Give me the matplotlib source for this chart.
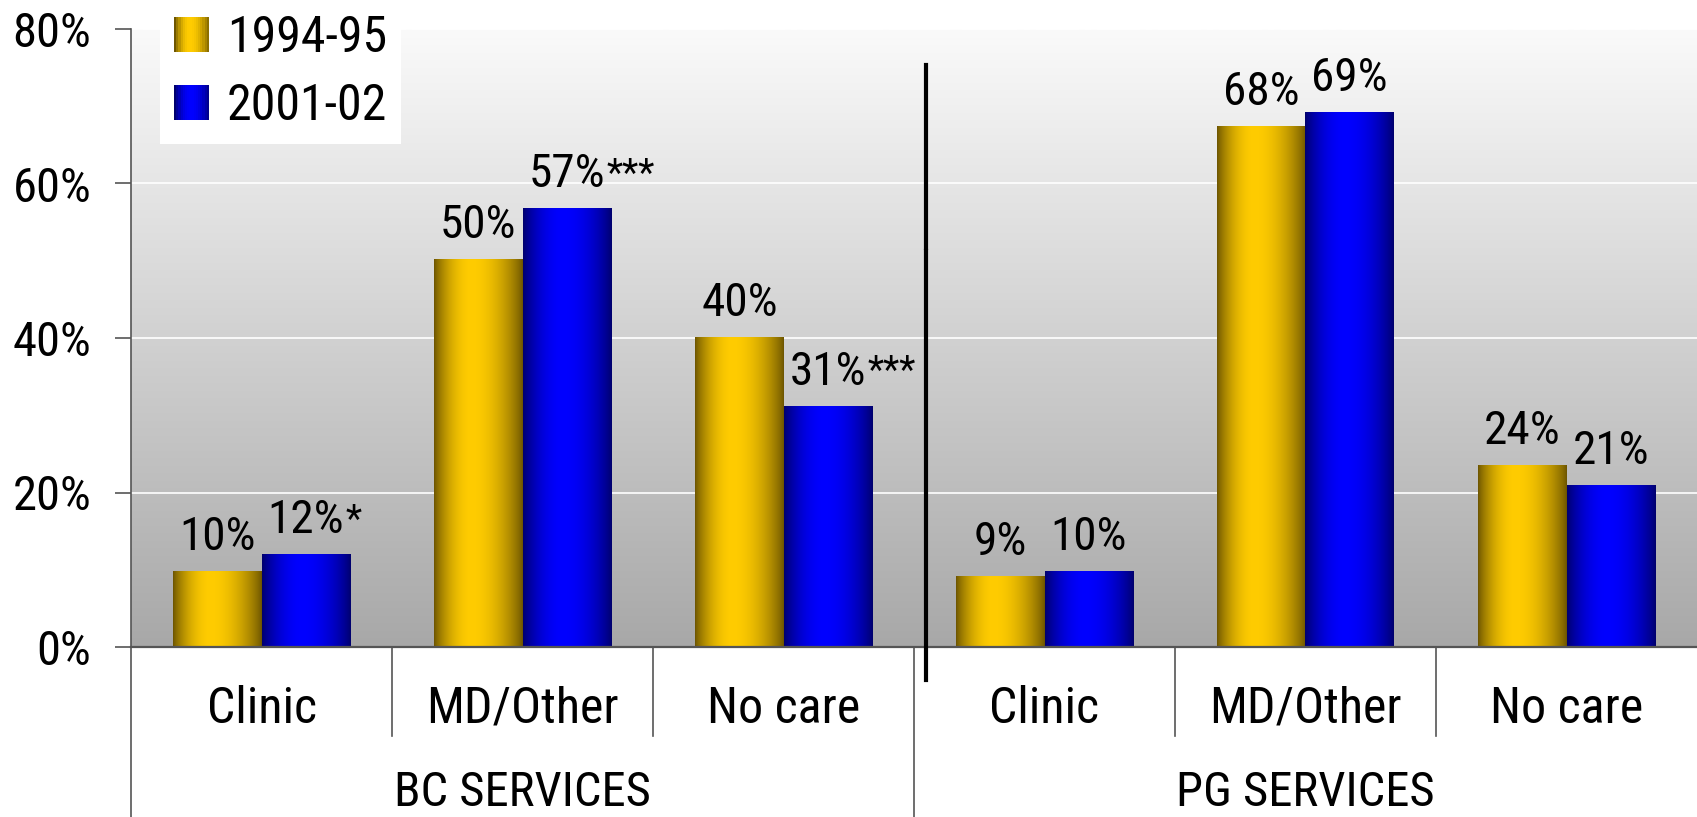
import numpy as np
import matplotlib
matplotlib.use('Agg')
import matplotlib.pyplot as plt
from matplotlib import font_manager
from matplotlib.patches import Rectangle
from matplotlib.legend_handler import HandlerBase

# ---------------- data ----------------
categories = ['Clinic', 'MD/Other', 'No care', 'Clinic', 'MD/Other', 'No care']
groups = ['BC SERVICES', 'PG SERVICES']
group_centers = [1, 4]
series_names = ['1994-95', '2001-02']
values_1994 = [9.9, 50.2, 40.1, 9.2, 67.5, 23.6]
values_2001 = [12.0, 56.8, 31.2, 9.8, 69.3, 21.0]
labels_1994 = ['10%', '50%', '40%', '9%', '68%', '24%']
labels_2001 = ['12%', '57%', '31%', '10%', '69%', '21%']
sig_2001 = ['*', '***', '***', '', '', '']
yticks = [0, 20, 40, 60, 80]
ytick_labels = ['0%', '20%', '40%', '60%', '80%']

names = {f.name for f in font_manager.fontManager.ttflist}
cands = ['Liberation Sans Narrow', 'Roboto Condensed', 'DejaVu Sans Condensed',
         'Liberation Sans']
FONT = [c for c in cands if c in names][:1] + ['DejaVu Sans']
plt.rcParams['font.family'] = FONT


def gradient(dark, bright, peak=0.42, n=96):
    t = np.linspace(0, 1, n)
    w = np.where(t < peak, t / peak, (1 - t) / (1 - peak))
    w = np.sin(np.clip(w, 0, 1) * np.pi / 2) ** 0.8
    dark = np.array(dark) / 255.0
    bright = np.array(bright) / 255.0
    return dark[None, :] * (1 - w[:, None]) + bright[None, :] * w[:, None]


grad_yellow = gradient((110, 86, 0), (255, 204, 0))
grad_blue = gradient((0, 0, 110), (0, 0, 255), peak=0.45)

fig = plt.figure(figsize=(16.97, 8.17), dpi=100)
ax = fig.add_axes([131 / 1697, 1 - 647 / 817, 1 - 131 / 1697, (647 - 29) / 817])

# background gradient
bg = np.linspace(250, 168, 256)[:, None, None] / 255.0 * np.ones((1, 1, 3))
ax.imshow(bg, extent=(0, 1, 0, 1), transform=ax.transAxes, aspect='auto',
          zorder=0.1, interpolation='bilinear')

x = np.arange(len(categories))
w = 0.338
bars1 = ax.bar(x - w / 2, values_1994, w, color='none', edgecolor='none', zorder=3)
bars2 = ax.bar(x + w / 2, values_2001, w, color='none', edgecolor='none', zorder=3)
for bars, grad in ((bars1, grad_yellow), (bars2, grad_blue)):
    for b in bars:
        x0 = b.get_x()
        im = ax.imshow(grad[None, :, :], extent=(x0, x0 + b.get_width(), 0, b.get_height()),
                       aspect='auto', zorder=3, interpolation='bilinear')
        im.set_clip_path(b)

# value labels
VFS = 34
for b, lab in zip(bars1, labels_1994):
    ax.annotate(lab, (b.get_x() + b.get_width() / 2, b.get_height()),
                xytext=(0, 15), textcoords='offset points', ha='center',
                va='baseline', fontsize=VFS, zorder=6)
for b, lab, sig in zip(bars2, labels_2001, sig_2001):
    t = ax.annotate(lab, (b.get_x() + b.get_width() / 2, b.get_height()),
                    xytext=(0, 15), textcoords='offset points', ha='center',
                    va='baseline', fontsize=VFS, zorder=6)
    if sig:
        ax.annotate(sig, xy=(1, 1), xycoords=t, xytext=(1, -3),
                    textcoords='offset points', ha='left', va='top',
                    fontsize=27, zorder=6)

ax.set_xlim(-0.5, len(categories) - 0.5)
ax.set_ylim(0, 80)
ax.set_yticks(yticks)
ax.set_yticklabels(ytick_labels, fontsize=35)
ax.set_xticks([])
ax.tick_params(axis='y', direction='out', length=11.5, width=1.2,
               color='#555555', pad=17)
ax.set_axisbelow(True)
ax.yaxis.grid(True, color='white', linewidth=1.2)
for s in ('top', 'right'):
    ax.spines[s].set_visible(False)
ax.spines['left'].set_color('#555555')
ax.spines['left'].set_linewidth(1.2)
ax.spines['bottom'].set_color('#555555')
ax.spines['bottom'].set_linewidth(1.6)
ax.spines['bottom'].set_zorder(4)

trans = ax.get_xaxis_transform()
for xb in [0.5, 1.5, 3.5, 4.5]:
    ax.plot([xb, xb], [0, -0.144], transform=trans, color='#555555', lw=1.2,
            clip_on=False)
for xb in [-0.5, 2.5]:
    ax.plot([xb, xb], [0, -1.2], transform=trans, color='#555555', lw=1.2,
            clip_on=False)

# category & group labels
for xi, c in zip(x, categories):
    ax.text(xi, -0.1, c, transform=trans, ha='center', va='center', fontsize=36)
for gc, g in zip(group_centers, groups):
    ax.text(gc, -0.237, g, transform=trans, ha='center', va='center', fontsize=35)

# thick divider between groups (with the small break seen in the original)
ax.plot([2.545, 2.545], [75.3, 51.7], color='black', lw=3, clip_on=False, zorder=5)
ax.plot([2.545, 2.545], [51.3, -4.3], color='black', lw=3, clip_on=False, zorder=5)


class GradientHandler(HandlerBase):
    def __init__(self, colors):
        super().__init__()
        self.colors = colors

    def create_artists(self, legend, orig_handle, xdescent, ydescent, width,
                       height, fontsize, trans):
        n = len(self.colors)
        arts = []
        for i, c in enumerate(self.colors):
            r = Rectangle((-xdescent + width * i / n, -ydescent), width / n * 1.1,
                          height, facecolor=c, edgecolor='none', transform=trans)
            arts.append(r)
        return arts


h1 = Rectangle((0, 0), 1, 1)
h2 = Rectangle((0, 0), 1, 1)
leg = fig.legend([h1, h2], series_names, loc='upper left',
                 bbox_to_anchor=(160 / 1697, 1.0), bbox_transform=fig.transFigure,
                 fontsize=36, frameon=True, fancybox=False, framealpha=1,
                 facecolor='white', edgecolor='none', handlelength=0.7,
                 handleheight=0.7, handletextpad=0.36, labelspacing=0.4,
                 borderpad=0.28, borderaxespad=0,
                 handler_map={h1: GradientHandler(grad_yellow[::6]),
                              h2: GradientHandler(grad_blue[::6])})
leg.set_zorder(10)

fig.savefig('out.png', dpi=100)
